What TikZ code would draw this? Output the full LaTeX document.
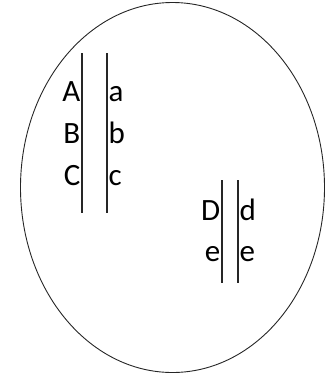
\documentclass[tikz,border=0pt]{standalone}
\usepackage{fontspec}
\setmainfont{Carlito}
\usetikzlibrary{positioning}
\begin{document}
\begin{tikzpicture}[x=1pt,y=-1pt,font=\fontsize{31}{37}\selectfont,
  bar/.style={draw=black!85,line width=1.1pt},
  lft/.style={anchor=base east,inner sep=0.5pt,text=black},
  rgt/.style={anchor=base west,inner sep=0.5pt,text=black}]
\useasboundingbox (0,0) rectangle (326,376);
% outer set
\draw[black!85,line width=0.9pt] (172.5,187.5) ellipse [x radius=152,y radius=185];
% first pair of bars
\coordinate (ut) at (82,53);   \coordinate (ub) at (82,213);
\coordinate (vt) at (107,53);  \coordinate (vb) at (107,213);
\draw[bar] (ut) -- (ub);
\draw[bar] (vt) -- (vb);
\node[lft] (A) at (81,101) {A};
\node[lft] (B) at (81,143) {B};
\node[lft] (C) at (81,185) {C};
\node[rgt] (a) at (108,101) {a};
\node[rgt] (b) at (108,143) {b};
\node[rgt] (c) at (108,185) {c};
% second pair of bars
\coordinate (st) at (222,180); \coordinate (sb) at (222,283);
\coordinate (tt) at (238,180); \coordinate (tb) at (238,283);
\draw[bar] (st) -- (sb);
\draw[bar] (tt) -- (tb);
\node[lft] (D) at (221,220) {D};
\node[lft] (e1) at (221,261) {e};
\node[rgt] (d) at (239,220) {d};
\node[rgt] (e2) at (239,261) {e};
\end{tikzpicture}
\end{document}
